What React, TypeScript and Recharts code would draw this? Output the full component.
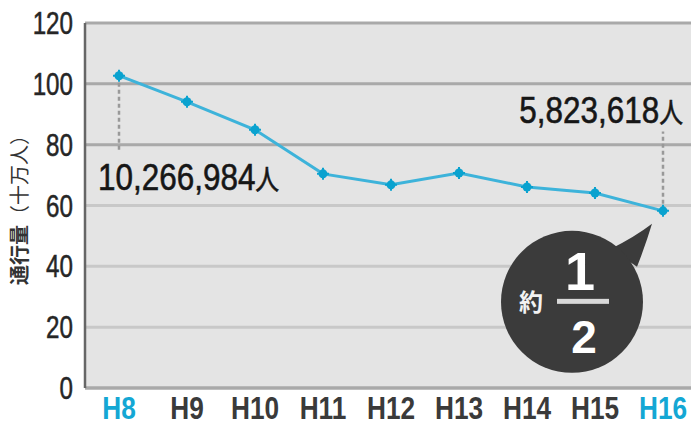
import React from "react";
import {
  ComposedChart,
  Line,
  XAxis,
  YAxis,
  CartesianGrid,
  ReferenceLine,
  ReferenceDot,
} from "recharts";

const years = ["H8", "H9", "H10", "H11", "H12", "H13", "H14", "H15", "H16"];
const visitors = [102.67, 94.1, 84.9, 70.4, 66.8, 70.7, 66.1, 64.1, 58.24];
const yTicks = [0, 20, 40, 60, 80, 100, 120];
const highlighted = ["H8", "H16"];
const firstLabel = "10,266,984";
const lastLabel = "5,823,618";
const unit = "人";
const yTitle = ["通行量", "（十万人）"];

const data = years.map((year, i) => ({ year, value: visitors[i] }));
const first = data[0];
const last = data[data.length - 1];

const NUM_FONT = "'Liberation Sans', Arial, sans-serif";
const JP_FONT = "'Noto Sans CJK JP', sans-serif";
const BLUE = "#14a7d4";

const YTick = (props: any) => {
  const { x, y, payload } = props;
  return (
    <text
      transform={`translate(${x},${y + 11}) scale(0.78,1)`}
      textAnchor="end"
      fontFamily={NUM_FONT}
      fontSize={31}
      fill="#262626"
      stroke="#262626"
      strokeWidth={0.5}
    >
      {payload.value}
    </text>
  );
};

const XTick = (props: any) => {
  const { x, y, payload } = props;
  const hot = highlighted.includes(payload.value);
  const color = hot ? BLUE : "#3a3a3a";
  return (
    <text
      transform={`translate(${x},${y + 31}) scale(0.82,1)`}
      textAnchor="middle"
      fontFamily={NUM_FONT}
      fontWeight="bold"
      fontSize={32}
      fill={color}
    >
      {payload.value}
    </text>
  );
};

const Marker = (props: any) => {
  const { cx, cy, index } = props;
  if (cx == null || cy == null) return null;
  return (
    <g key={`m-${index}`}>
      <circle cx={cx} cy={cy} r={4.5} fill="#0aa2cf" />
      <path
        d={`M${cx - 6},${cy} L${cx + 6},${cy} M${cx},${cy - 6} L${cx},${cy + 6}`}
        stroke="#0aa2cf"
        strokeWidth={2}
      />
    </g>
  );
};

const FirstLabel = (props: any) => {
  const { cx, cy } = props;
  return (
    <text
      transform={`translate(${cx - 21},${cy + 114}) scale(0.85,1)`}
      fontFamily={NUM_FONT}
      fontSize={37}
      fill="#161616"
      stroke="#161616"
      strokeWidth={0.6}
    >
      {firstLabel}
      <tspan fontFamily={JP_FONT} fontSize={28}>
        {unit}
      </tspan>
    </text>
  );
};

const LastLabel = (props: any) => {
  const { cx, cy } = props;
  return (
    <text
      transform={`translate(${cx + 20},${cy - 88}) scale(0.85,1)`}
      textAnchor="end"
      fontFamily={NUM_FONT}
      fontSize={37}
      fill="#161616"
      stroke="#161616"
      strokeWidth={0.6}
    >
      {lastLabel}
      <tspan fontFamily={JP_FONT} fontSize={28}>
        {unit}
      </tspan>
    </text>
  );
};

// speech bubble "約 1/2" hanging off the last point
const Bubble = (props: any) => {
  const { cx, cy } = props;
  const bx = cx - 91;
  const by = cy + 91;
  return (
    <g>
      <path
        d={`M${cx - 52},${cy + 38} Q${cx - 28},${cy + 26} ${cx - 11},${cy + 13} Q${cx - 17},${cy + 33} ${cx - 26},${cy + 56} Z`}
        fill="#3b3b3b"
      />
      <circle cx={bx} cy={by} r={71} fill="#3b3b3b" />
      <text
        x={bx - 41}
        y={by + 9}
        textAnchor="middle"
        fontFamily={JP_FONT}
        fontWeight="bold"
        fontSize={24}
        fill="#f2f2f2"
      >
        約
      </text>
      <text
        x={bx + 8}
        y={by - 12}
        textAnchor="middle"
        fontFamily={NUM_FONT}
        fontWeight="bold"
        fontSize={54}
        fill="#fff"
      >
        1
      </text>
      <rect x={bx - 15} y={by - 3} width={52} height={5} fill="#d8d8d8" />
      <text
        x={bx + 12}
        y={by + 51}
        textAnchor="middle"
        fontFamily={NUM_FONT}
        fontWeight="bold"
        fontSize={46}
        fill="#fff"
      >
        2
      </text>
    </g>
  );
};

export default function App() {
  return (
    <div
      style={{
        position: "absolute",
        left: 0,
        top: 0,
        width: 691,
        height: 425,
        overflow: "hidden",
        background: "#fff",
      }}
    >
      <ComposedChart
        width={697}
        height={425}
        data={data}
        margin={{ top: 23, right: 0, bottom: 0, left: 0 }}
      >
        <CartesianGrid
          horizontal={false}
          vertical={false}
          fill="#e4e4e4"
          stroke="none"
        />
        {yTicks.map((t) => (
          <ReferenceLine
            key={t}
            y={t}
            stroke={t >= 80 || t === 0 ? "#a9a9a9" : "#c8c8c8"}
            strokeWidth={3}
          />
        ))}
        <XAxis
          dataKey="year"
          height={37}
          padding={{ left: 34, right: 34 }}
          axisLine={{ stroke: "#a9a9a9", strokeWidth: 3 }}
          tickLine={false}
          tickSize={0}
          tickMargin={0}
          interval={0}
          tick={<XTick />}
        />
        <YAxis
          width={85}
          domain={[0, 120]}
          ticks={yTicks}
          axisLine={{ stroke: "#666", strokeWidth: 2.5 }}
          tickLine={false}
          tickSize={0}
          tickMargin={12}
          tick={<YTick />}
          label={{
            position: "insideLeft",
            content: () => (
              <text
                transform="translate(27,205) rotate(-90)"
                textAnchor="middle"
                fontFamily={JP_FONT}
                fontSize={20}
                fill="#333"
              >
                <tspan fontWeight="bold">{yTitle[0]}</tspan>
                <tspan>{yTitle[1]}</tspan>
              </text>
            ),
          }}
        />
        <ReferenceLine
          segment={[
            { x: first.year, y: first.value },
            { x: first.year, y: 77.6 },
          ]}
          stroke="#999"
          strokeWidth={2.5}
          strokeDasharray="4 3"
        />
        <ReferenceLine
          segment={[
            { x: last.year, y: last.value },
            { x: last.year, y: 84.3 },
          ]}
          stroke="#999"
          strokeWidth={2.5}
          strokeDasharray="4 3"
        />
        <Line
          type="linear"
          dataKey="value"
          stroke="#3db3da"
          strokeWidth={3}
          dot={<Marker />}
          activeDot={false}
          isAnimationActive={false}
        />
        <ReferenceDot x={first.year} y={first.value} shape={<FirstLabel />} />
        <ReferenceDot x={last.year} y={last.value} shape={<LastLabel />} />
        <ReferenceDot x={last.year} y={last.value} shape={<Bubble />} />
      </ComposedChart>
    </div>
  );
}
